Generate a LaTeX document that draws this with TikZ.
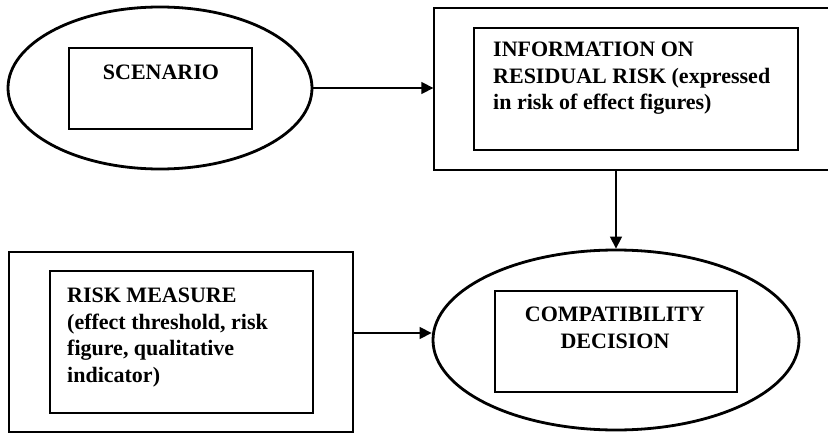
\documentclass[tikz,border=0pt]{standalone}
\usepackage{fontspec}
\setmainfont{Liberation Serif}
\usetikzlibrary{shapes.geometric,arrows.meta}

\tikzset{
  oval/.style={ellipse, draw, line width=2.8pt, inner sep=0pt},
  frame/.style={rectangle, draw, line width=1.3pt, inner sep=0pt},
  label/.style={inner sep=0pt, font=\bfseries\fontsize{22}{26.5}\selectfont},
  arr/.style={line width=1.4pt, -{Triangle[length=12pt,width=12pt]}}
}

\begin{document}
\begin{tikzpicture}[x=1pt,y=-1pt]
  \useasboundingbox (0,0) rectangle (828,433);
  \clip (0,0) rectangle (828,433);

  % scenario
  \node[oval, minimum width=304pt, minimum height=162pt] (sc) at (160,88) {};
  \node[frame, minimum width=183pt, minimum height=81pt] (scbox) at (160.5,88.5) {};
  \node[label, anchor=north] (sctxt) at (161,65) {SCENARIO};

  % residual risk information
  \node[frame, minimum width=404pt, minimum height=162pt] (info) at (636,89) {};
  \node[frame, minimum width=324pt, minimum height=122pt] (infobox) at (636,89) {};
  \node[label, anchor=north west, align=left] (infotxt) at (493,42)
    {INFORMATION ON\\RESIDUAL RISK (expressed\\in risk of effect figures)};

  % risk measure
  \node[frame, minimum width=344pt, minimum height=180pt] (rm) at (181,342) {};
  \node[frame, minimum width=263pt, minimum height=142pt] (rmbox) at (181.5,342) {};
  \node[label, anchor=north west, align=left] (rmtxt) at (67,288)
    {RISK MEASURE\\(effect threshold, risk\\figure, qualitative\\indicator)};

  % compatibility decision
  \node[oval, minimum width=366pt, minimum height=180pt] (dec) at (616,340) {};
  \node[frame, minimum width=242pt, minimum height=101pt] (decbox) at (616,341.5) {};
  \node[label, anchor=north, align=center] (dectxt) at (615,307)
    {COMPATIBILITY\\DECISION};

  % connectors
  \draw[arr] (sc.east) -- (sc.east -| info.west);
  \draw[arr] (dec.north |- info.south) -- (dec.north);
  \coordinate (rmout) at ([yshift=9pt]rm.east);
  \draw[arr] (rmout) -- (rmout -| dec.west);
\end{tikzpicture}
\end{document}
